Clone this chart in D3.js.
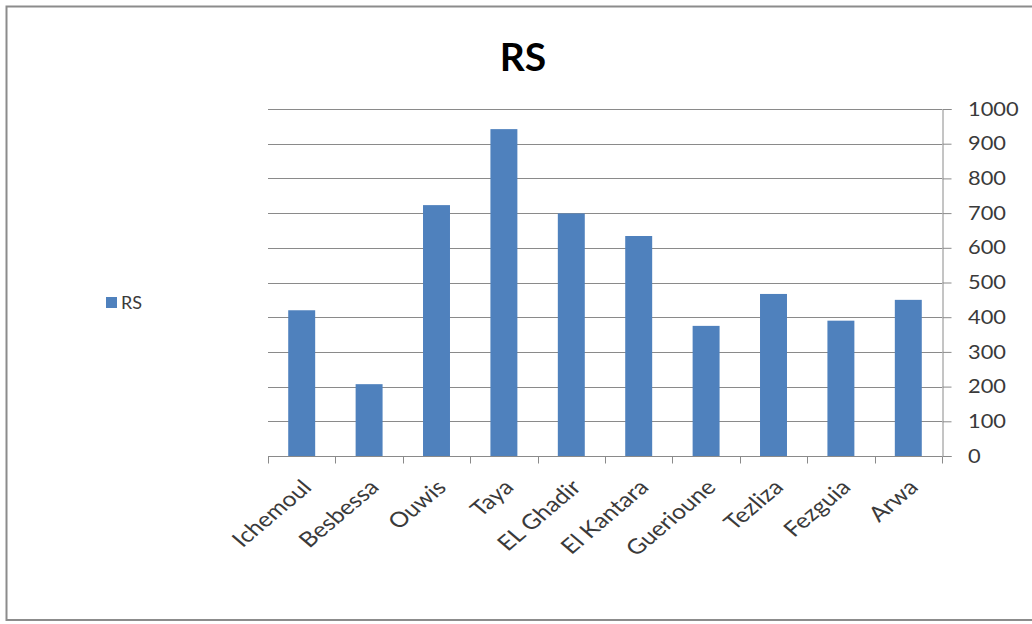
<!DOCTYPE html>
<html>
<head>
<meta charset="utf-8">
<script src="https://cdn.jsdelivr.net/npm/d3@7"></script>
<style>
  html, body { margin: 0; padding: 0; background: #fff; }
  svg { display: block; }
</style>
</head>
<body>
<svg id="chart" width="1032" height="624"></svg>
<script>
// Sites and their RS values
const categories = ["Ichemoul", "Besbessa", "Ouwis", "Taya", "EL Ghadir", "El Kantara", "Guerioune", "Tezliza", "Fezguia", "Arwa"];
const rsValues = [420, 207, 723, 942, 699, 634, 375, 467, 390, 450];
const yTicks = [0, 100, 200, 300, 400, 500, 600, 700, 800, 900, 1000];
const seriesName = "RS";

const svg = d3.select("#chart");
const font = "Lato, 'Open Sans', sans-serif";
const textColor = "#3a3a3a";

// outer frame
svg.append("rect")
  .attr("x", 6.5).attr("y", 6.5)
  .attr("width", 1040).attr("height", 613.5)
  .attr("fill", "#fff")
  .attr("stroke", "#8c8c8c").attr("stroke-width", 2);

const plot = { left: 268, right: 942, top: 109, bottom: 456 };

const x = d3.scaleBand()
  .domain(categories)
  .range([plot.left, plot.right])
  .paddingInner(0.6).paddingOuter(0.3);

const xTickScale = d3.scaleLinear()
  .domain([0, categories.length])
  .range([plot.left, plot.right]);

const y = d3.scaleLinear()
  .domain([0, 1000])
  .range([plot.bottom, plot.top]);

// gridlines
svg.append("g")
  .selectAll("line")
  .data(yTicks.filter(d => d > 0))
  .join("line")
  .attr("x1", plot.left).attr("x2", plot.right)
  .attr("y1", d => Math.round(y(d)) + 0.5).attr("y2", d => Math.round(y(d)) + 0.5)
  .attr("stroke", "#8a8a8a").attr("stroke-width", 1);

// bars
svg.append("g")
  .selectAll("rect")
  .data(categories.map((c, i) => ({ c, v: rsValues[i] })))
  .join("rect")
  .attr("x", d => x(d.c))
  .attr("width", x.bandwidth())
  .attr("y", d => y(d.v))
  .attr("height", d => y(0) - y(d.v))
  .attr("fill", "#4F81BD");

// right value axis (line + ticks from d3, labels drawn slightly wide)
const yAxis = svg.append("g")
  .attr("transform", `translate(${plot.right + 0.5},0)`)
  .call(d3.axisRight(y).tickValues(yTicks).tickSize(9).tickFormat(""));
yAxis.select(".domain").attr("stroke", "#8a8a8a");
yAxis.selectAll(".tick line").attr("stroke", "#8a8a8a");
svg.append("g")
  .selectAll("text")
  .data(yTicks)
  .join("text")
  .attr("transform", d => `translate(968,${y(d)}) scale(1.15,1)`)
  .attr("dy", "0.35em")
  .attr("fill", textColor)
  .style("font-family", font).style("font-size", "19px")
  .text(d => d3.format("d")(d));

// bottom category axis
const xAxisG = svg.append("g")
  .attr("transform", `translate(0,${Math.round(plot.bottom) + 0.5})`);
xAxisG.append("line")
  .attr("x1", plot.left).attr("x2", plot.right)
  .attr("stroke", "#8a8a8a");
xAxisG.selectAll("line.tick")
  .data(d3.range(categories.length + 1))
  .join("line")
  .attr("class", "tick")
  .attr("x1", d => Math.round(xTickScale(d)) + 0.5)
  .attr("x2", d => Math.round(xTickScale(d)) + 0.5)
  .attr("y1", 0).attr("y2", 7)
  .attr("stroke", "#8a8a8a");
xAxisG.selectAll("text")
  .data(categories)
  .join("text")
  .attr("transform", d => `translate(${x(d) + x.bandwidth() / 2 + 5},${27}) scale(1.18,1) rotate(-45)`)
  .attr("text-anchor", "end")
  .attr("dy", "0.35em")
  .attr("fill", textColor)
  .style("font-family", font).style("font-size", "21px")
  .text(d => d);

// title
svg.append("text")
  .attr("x", 523).attr("y", 71)
  .attr("text-anchor", "middle")
  .attr("fill", "#000")
  .style("font-family", font).style("font-size", "39px").style("font-weight", "bold")
  .text(seriesName);

// legend
svg.append("rect")
  .attr("x", 106).attr("y", 297).attr("width", 11).attr("height", 11)
  .attr("fill", "#4F81BD");
svg.append("text")
  .attr("x", 121).attr("y", 303)
  .attr("dy", "0.35em")
  .attr("fill", textColor)
  .style("font-family", font).style("font-size", "18px")
  .text(seriesName);
</script>
</body>
</html>
